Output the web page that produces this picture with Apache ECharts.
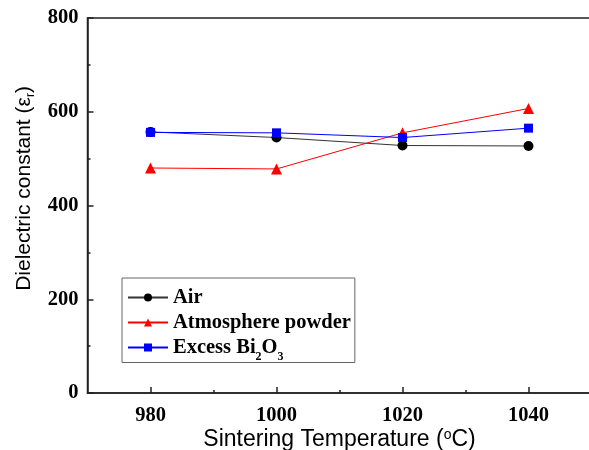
<!DOCTYPE html>
<html>
<head>
<meta charset="utf-8">
<script src="https://cdn.jsdelivr.net/npm/echarts@6/dist/echarts.min.js"></script>
<style>
  html, body { margin: 0; padding: 0; background: #ffffff; }
  #main { width: 589px; height: 450px; }
</style>
</head>
<body>
<div id="main"></div>
<script>
  // data
  var temps = [980, 1000, 1020, 1040];
  var airVals = [557, 545, 528, 527];
  var powderVals = [480, 478, 555, 607];
  var bi2o3Vals = [556, 555, 545, 565];
  var majorTicks = [980, 1000, 1020, 1040];
  var minorTicks = [990, 1010, 1030];

  function pairs(vals) {
    return temps.map(function (t, i) { return [t, vals[i]]; });
  }

  var serif = '"Liberation Serif", "Times New Roman", serif';
  var sans = '"Liberation Sans", Arial, sans-serif';

  var myChart = echarts.init(document.getElementById('main'), null, {renderer: 'canvas'});

  var option = {
    animation: false,
    backgroundColor: '#ffffff',
    grid: {
      left: 87.5,
      top: 18,
      width: 504,
      height: 375,
      outerBoundsMode: 'none',
      containLabel: false,
      show: true,
      borderColor: '#222',
      borderWidth: 1.5,
      backgroundColor: 'transparent'
    },
    legend: {
      orient: 'vertical',
      left: 122,
      top: 278,
      padding: [9, 4, 0, 5],
      itemGap: 4,
      itemWidth: 40,
      itemHeight: 10,
      borderColor: '#666',
      borderWidth: 1,
      textStyle: {
        fontFamily: serif,
        fontSize: 20.5,
        fontWeight: 'bold',
        color: '#000',
        lineHeight: 20,
        rich: {
          a: {fontFamily: serif, fontSize: 20.5, fontWeight: 'bold', color: '#000'},
          s: {fontFamily: serif, fontSize: 12, fontWeight: 'bold', color: '#000', padding: [18, 0, 0, 0]}
        }
      },
      formatter: function (name) {
        if (name === 'Excess Bi2O3') {
          return '{a|Excess Bi}{s|2}{a|O}{s|3}';
        }
        return name;
      },
      data: ['Air', 'Atmosphere powder', 'Excess Bi2O3']
    },
    xAxis: [
      {
        type: 'value',
        min: 970,
        max: 1050,
        interval: 10,
        name: '{a|Sintering Temperature (}{s|o}{a|C)}',
        nameLocation: 'middle',
        nameGap: 35,
        nameMoveOverlap: false,
        nameTextStyle: {
          rich: {
            a: {fontFamily: sans, fontSize: 23, color: '#000'},
            s: {fontFamily: sans, fontSize: 14, color: '#000', padding: [0, 0, 9, 0]}
          }
        },
        axisLine: {show: true, lineStyle: {color: '#222', width: 1.5}},
        axisTick: {show: true, inside: true, length: 6, customValues: majorTicks, lineStyle: {color: '#222', width: 1.5}},
        axisLabel: {
          customValues: majorTicks,
          margin: 12,
          fontFamily: serif,
          fontSize: 20.5,
          fontWeight: 'bold',
          color: '#000',
          formatter: function (v) { return String(v); }
        },
        splitLine: {show: false}
      },
      {
        type: 'value',
        position: 'bottom',
        min: 970,
        max: 1050,
        interval: 10,
        axisLine: {show: false},
        axisTick: {show: true, inside: true, length: 3, customValues: minorTicks, lineStyle: {color: '#222', width: 1.5}},
        axisLabel: {show: false},
        splitLine: {show: false}
      }
    ],
    yAxis: {
      type: 'value',
      min: 0,
      max: 800,
      interval: 200,
      name: '{a|Dielectric constant (ε}{s|r}{a|)}',
      nameLocation: 'middle',
      nameGap: 51,
      nameMoveOverlap: false,
      nameTextStyle: {
        padding: [0, 0, 0, 34],
        rich: {
          a: {fontFamily: sans, fontSize: 21, color: '#000'},
          s: {fontFamily: sans, fontSize: 12, color: '#000', padding: [12, 0, 0, 0]}
        }
      },
      axisLine: {show: true, lineStyle: {color: '#222', width: 1.5}},
      axisTick: {show: true, inside: true, length: 6, lineStyle: {color: '#222', width: 1.5}},
      minorTick: {show: true, splitNumber: 2, length: 3, lineStyle: {color: '#222', width: 1.5}},
      axisLabel: {
        margin: 9,
        fontFamily: serif,
        fontSize: 20.5,
        fontWeight: 'bold',
        color: '#000'
      },
      splitLine: {show: false},
      minorSplitLine: {show: false}
    },
    series: [
      {
        name: 'Air',
        type: 'line',
        data: pairs(airVals),
        symbol: 'circle',
        symbolSize: 10,
        itemStyle: {color: '#000'},
        lineStyle: {color: '#333', width: 1}
      },
      {
        name: 'Atmosphere powder',
        type: 'line',
        data: pairs(powderVals),
        symbol: 'triangle',
        symbolSize: 11,
        itemStyle: {color: '#ff0000'},
        lineStyle: {color: '#ff0000', width: 1}
      },
      {
        name: 'Excess Bi2O3',
        type: 'line',
        data: pairs(bi2o3Vals),
        symbol: 'rect',
        symbolSize: 9,
        itemStyle: {color: '#0000ff'},
        lineStyle: {color: '#0000ff', width: 1}
      }
    ]
  };

  myChart.setOption(option);
</script>
</body>
</html>
